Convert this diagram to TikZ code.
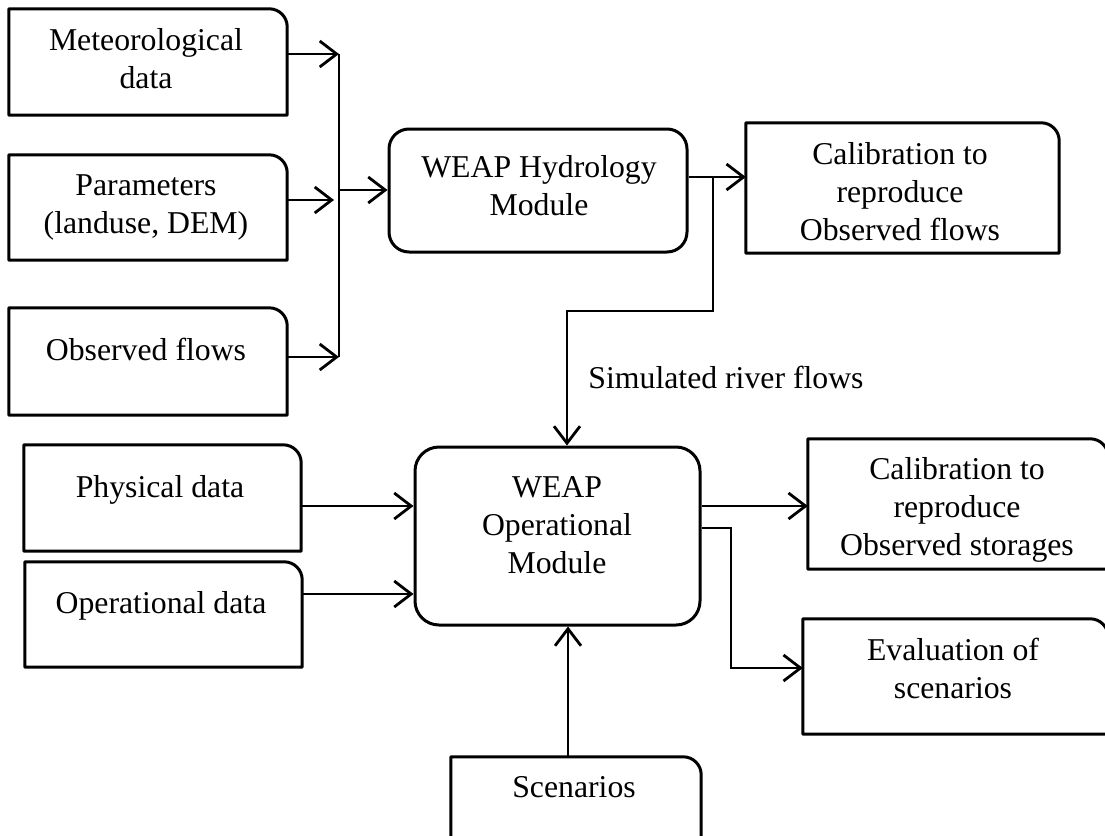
\documentclass[tikz,border=0pt]{standalone}
\usepackage{fontspec}
\setmainfont{Liberation Serif}
\usetikzlibrary{arrows.meta}
\newcommand\mylines[1]{\begin{tabular}[t]{@{}c@{}}#1\end{tabular}}
\newcommand\rcbox[1]{\draw[outline] (#1.south west) -- (#1.north west) -- ([xshift=-18pt]#1.north east) arc[start angle=90,end angle=0,radius=18pt] -- (#1.south east) -- cycle;}
\begin{document}
\begin{tikzpicture}[x=1pt,y=-1pt,
  bx/.style={rectangle, draw=none, inner sep=0pt, minimum width=#1},
  rbox/.style={rectangle, draw, line width=3pt, rounded corners=#1, inner sep=0pt},
  txt/.style={font=\fontsize{31.75}{38}\selectfont, inner sep=0pt, anchor=base},
  outline/.style={line width=3pt, line join=round},
  arr/.style={line width=2.8pt, -{Straight Barb[length=17pt,width=26pt]}},
  busline/.style={line width=1.6pt}]
\useasboundingbox (0,0) rectangle (1105,835);
\clip (0,0) rectangle (1105,835);
\fill[white] (0,0) rectangle (1105,835);

% boxes
\node[bx=278pt, minimum height=106pt] (met) at (148,62) {};
\node[bx=278pt, minimum height=105pt] (par) at (148,207.5) {};
\node[bx=278pt, minimum height=107pt] (obs) at (148,361.5) {};
\node[rbox=20pt, minimum width=298pt, minimum height=123pt] (hyd) at (538,190.5) {};
\node[bx=313pt, minimum height=130pt] (cal1) at (902.5,188) {};
\node[bx=277pt, minimum height=106pt] (phys) at (162.5,498) {};
\node[bx=277pt, minimum height=105pt] (opd) at (163.5,614.5) {};
\node[rbox=24pt, minimum width=285pt, minimum height=178pt] (op) at (557.5,536) {};
\node[bx=300pt, minimum height=130pt] (cal2) at (958,504) {};
\node[bx=305pt, minimum height=115pt] (eval) at (955.5,676.5) {};
\node[bx=250pt, minimum height=123pt] (scen) at (576,818.5) {};
\foreach \b in {met,par,obs,cal1,phys,opd,cal2,eval,scen} {\rcbox{\b}}

% texts
\node[txt] (met-t) at (146,50) {\mylines{Meteorological\\data}};
\node[txt] (par-t) at (146,195) {\mylines{Parameters\\(landuse, DEM)}};
\node[txt] (obs-t) at (146,360) {Observed flows};
\node[txt] (hyd-t) at (539,177) {\mylines{WEAP Hydrology\\Module}};
\node[txt] (cal1-t) at (900,164) {\mylines{Calibration to\\reproduce\\Observed flows}};
\node[txt] (sim) at (726,388) {Simulated river flows};
\node[txt] (phys-t) at (160,497) {Physical data};
\node[txt] (opd-t) at (161,613) {Operational data};
\node[txt] (op-t) at (557,497) {\mylines{WEAP\\Operational\\Module}};
\node[txt] (scen-t) at (574,797) {Scenarios};
\node[txt] (cal2-t) at (957,479) {\mylines{Calibration to\\reproduce\\Observed storages}};
\node[txt] (eval-t) at (953,660) {\mylines{Evaluation of\\scenarios}};

% connectors
\coordinate (bt) at (339,54);
\coordinate (bb) at (339,357);
\coordinate (pa) at (334,200);
\coordinate (bm) at (339,190);
\draw[busline] (bt) -- (bb);
\draw[arr] (met.east |- bt) -- (bt);
\draw[arr] (par.east |- pa) -- (pa);
\draw[arr] (obs.east |- bb) -- (bb);
\draw[arr] (bm) -- (hyd.west |- bm);

\coordinate (j1) at (713,177);
\coordinate (j2) at (567,311);
\draw[arr] (hyd.east |- j1) -- (cal1.west |- j1);
\draw[arr] (j1) |- (j2) -- (op.north -| j2);

\coordinate (pp) at (0,506);
\coordinate (oo) at (0,594);
\draw[arr] (phys.east |- pp) -- (op.west |- pp);
\draw[arr] (opd.east |- oo) -- (op.west |- oo);
\draw[arr] (op.east |- pp) -- (cal2.west |- pp);
\coordinate (j3) at (731,528);
\coordinate (ev) at (0,668);
\draw[arr] (op.east |- j3) -- (j3) |- (eval.west |- ev);
\coordinate (sc) at (568,0);
\draw[arr] (scen.north -| sc) -- (op.south -| sc);
\end{tikzpicture}
\end{document}
